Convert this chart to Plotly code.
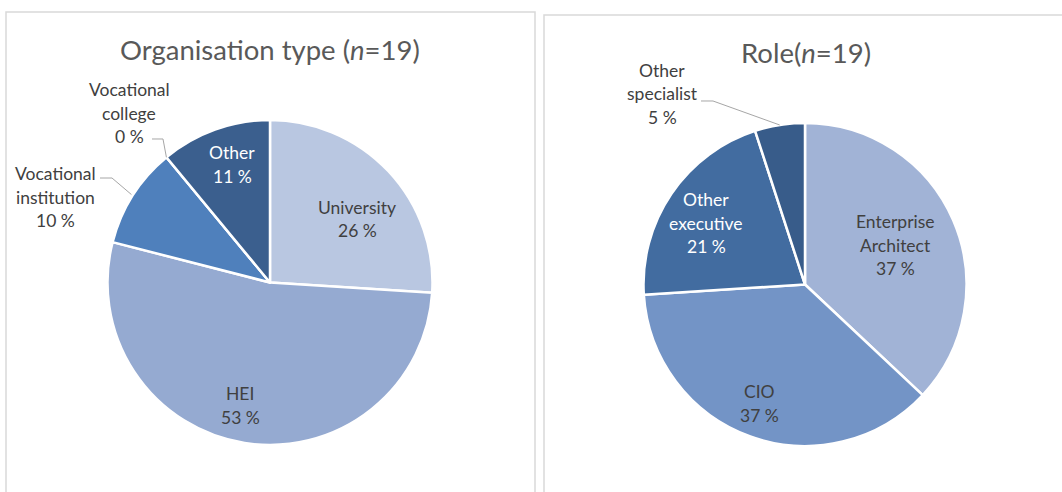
import math
import plotly.graph_objects as go

# ---------------- data ----------------
org_title = "Organisation type (<i>n</i>=19)"
org_labels = ["University", "HEI", "Vocational institution", "Vocational college", "Other"]
org_values = [26, 53, 10, 0, 11]

role_title = "Role(<i>n</i>=19)"
role_labels = ["Enterprise Architect", "CIO", "Other executive", "Other specialist"]
role_values = [37, 37, 21, 5]

# ---------------- style ----------------
W, H = 1062, 492
FONT = "Lato"
LABEL_SIZE = 17.5
TITLE_SIZE = 27.5
LINE_GAP = 23.5
DARK = "#404040"
TITLE_COLOR = "#595959"

org_colors = ["#B9C7E1", "#95AAD1", "#4F80BC", "#4F80BC", "#3B5F8E"]
role_colors = ["#A1B3D6", "#7394C6", "#426CA0", "#385C8A"]

# text display (line breaks) per label
org_display = {
    "University": ["University"],
    "HEI": ["HEI"],
    "Vocational institution": ["Vocational", "institution"],
    "Vocational college": ["Vocational", "college"],
    "Other": ["Other"],
}
role_display = {
    "Enterprise Architect": ["Enterprise", "Architect"],
    "CIO": ["CIO"],
    "Other executive": ["Other", "executive"],
    "Other specialist": ["Other", "specialist"],
}

# label placement: inside -> (radius fraction, angle offset deg, color)
#                  outside -> pixel offset of label centre from pie centre + leader elbow offsets
org_place = {
    "University": dict(kind="in", rf=0.663, da=7.1, color=DARK),
    "HEI": dict(kind="in", rf=0.779, da=4.7, color=DARK),
    "Other": dict(kind="in", rf=0.763, da=2.0, color="white"),
    "Vocational institution": dict(kind="out", off=(-215, -85.5), s=(45, -19), e=(57, -19), rr=1.01),
    "Vocational college": dict(kind="out", off=(-141, -169.5), s=(23, 26), e=(34, 26), rr=1.0),
}
role_place = {
    "Enterprise Architect": dict(kind="in", rf=0.613, da=0.2, color=DARK),
    "CIO": dict(kind="in", rf=0.79, da=1.3, color=DARK),
    "Other executive": dict(kind="in", rf=0.72, da=-2.4, color="white"),
    "Other specialist": dict(kind="out", off=(-143, -190.5), s=(39, 7), e=(51, 7), rr=1.0),
}

charts = [
    dict(title=org_title, labels=org_labels, values=org_values, colors=org_colors,
         display=org_display, place=org_place, cx=270, cy=282.5, r=162.5,
         title_xy=(270, 49), box=(6, 12, 535, 520)),
    dict(title=role_title, labels=role_labels, values=role_values, colors=role_colors,
         display=role_display, place=role_place, cx=805, cy=284.5, r=161.5,
         title_xy=(806, 52), box=(544, 15, 1080, 520)),
]


def px(x, y):
    return x / W, 1 - y / H


fig = go.Figure()
annotations = []
shapes = []

for c in charts:
    cx, cy, r = c["cx"], c["cy"], c["r"]
    x0, y1 = px(cx - r, cy - r)
    x1, y0 = px(cx + r, cy + r)
    fig.add_trace(go.Pie(
        labels=c["labels"], values=c["values"], sort=False, direction="clockwise",
        rotation=0, textinfo="none", hoverinfo="label+percent",
        marker=dict(colors=c["colors"], line=dict(color="white", width=2.5)),
        domain=dict(x=[x0, x1], y=[y0, y1]), showlegend=False,
    ))

    # frame
    bx0, by0, bx1, by1 = c["box"]
    fx0, fy1 = px(bx0, by0)
    fx1, fy0 = px(bx1, by1)
    shapes.append(dict(type="rect", xref="paper", yref="paper", x0=fx0, x1=fx1, y0=fy0, y1=fy1,
                       line=dict(color="#D9D9D9", width=1.5), fillcolor="rgba(0,0,0,0)", layer="below"))

    # title
    tx, ty = px(*c["title_xy"])
    annotations.append(dict(text=c["title"], x=tx, y=ty, xref="paper", yref="paper",
                            xanchor="center", yanchor="middle", showarrow=False,
                            font=dict(family=FONT, size=TITLE_SIZE, color=TITLE_COLOR)))

    total = sum(c["values"])
    cum = 0
    for lab, val in zip(c["labels"], c["values"]):
        start = cum / total * 360
        cum += val
        end = cum / total * 360
        mid = (start + end) / 2
        lines = c["display"][lab] + [f"{val} %"]
        p = c["place"][lab]
        if p["kind"] == "in":
            a = math.radians(mid + p["da"])
            lx = cx + p["rf"] * r * math.sin(a)
            ly = cy - p["rf"] * r * math.cos(a)
            color = p["color"]
        else:
            lx = cx + p["off"][0]
            ly = cy + p["off"][1]
            color = DARK
            a = math.radians(mid)
            ex = cx + p["rr"] * r * math.sin(a)
            ey = cy - p["rr"] * r * math.cos(a)
            pts = [(lx + p["s"][0], ly + p["s"][1]), (lx + p["e"][0], ly + p["e"][1]), (ex, ey)]
            path = "M " + " L ".join(f"{px(x, y)[0]:.5f},{px(x, y)[1]:.5f}" for x, y in pts)
            shapes.append(dict(type="path", xref="paper", yref="paper", path=path,
                               line=dict(color="#A6A6A6", width=1)))
        n = len(lines)
        for i, t in enumerate(lines):
            yy = ly + (i - (n - 1) / 2) * LINE_GAP
            ax, ay = px(lx, yy)
            annotations.append(dict(text=t, x=ax, y=ay, xref="paper", yref="paper",
                                    xanchor="center", yanchor="middle", showarrow=False,
                                    font=dict(family=FONT, size=LABEL_SIZE, color=color)))

fig.update_layout(
    width=W, height=H, margin=dict(l=0, r=0, t=0, b=0),
    paper_bgcolor="white", plot_bgcolor="white",
    annotations=annotations, shapes=shapes,
    font=dict(family=FONT, color=DARK),
)

fig.write_html("out.html", config={"displayModeBar": False},
               post_script="document.body.style.margin='0px';")
